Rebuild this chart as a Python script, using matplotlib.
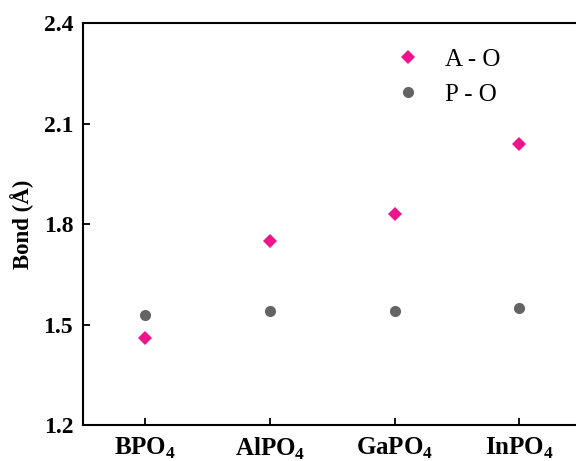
import numpy as np
import matplotlib
matplotlib.use('Agg')
import matplotlib.pyplot as plt

plt.rcParams['font.family'] = ['Liberation Serif', 'DejaVu Serif']
plt.rcParams['mathtext.fontset'] = 'custom'
plt.rcParams['mathtext.rm'] = 'Liberation Serif'
plt.rcParams['mathtext.bf'] = 'Liberation Serif:bold'

# data
compounds = [r'BPO$_\mathbf{4}$', r'AlPO$_\mathbf{4}$', r'GaPO$_\mathbf{4}$', r'InPO$_\mathbf{4}$']
a_o = [1.459, 1.750, 1.829, 2.040]
p_o = [1.529, 1.540, 1.540, 1.549]
yticks = [1.2, 1.5, 1.8, 2.1, 2.4]

x = np.arange(len(compounds))

fig = plt.figure(figsize=(5.76, 4.61), dpi=100)
ax = fig.add_axes([0.144, 0.078, 0.866, 0.8715])

ax.plot(x, a_o, 'D', color='#F0148C', markersize=7.5, markeredgewidth=0, label='A - O')
ax.plot(x, p_o, 'o', color='#646464', markersize=8, markeredgewidth=0, label='P - O')

ax.set_xlim(-0.5, 3.5)
ax.set_ylim(1.2, 2.4)
ax.set_xticks(x)
ax.set_xticklabels(compounds, fontsize=18, fontweight='bold')
ax.set_yticks(yticks)
ax.set_yticklabels([f'{v:.1f}' for v in yticks], fontsize=17, fontweight='bold')
ax.set_ylabel('Bond (Å)', fontsize=16.5, fontweight='bold', labelpad=7)

ax.tick_params(direction='in', length=5, width=1.3, top=False, right=False)
ax.tick_params(axis='x', pad=8)
ax.tick_params(axis='y', pad=7)
for s in ax.spines.values():
    s.set_linewidth(1.5)

ax.legend(loc='upper left', bbox_to_anchor=(0.678, 0.895), bbox_transform=fig.transFigure,
          frameon=False, fontsize=18, handlelength=1.4, handletextpad=0.78,
          labelspacing=0.5, borderpad=0, borderaxespad=0)

fig.savefig('out.png', dpi=100)
